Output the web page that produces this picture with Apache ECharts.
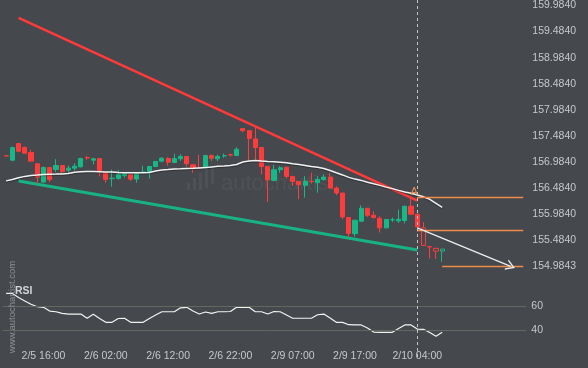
<!DOCTYPE html>
<html><head><meta charset="utf-8">
<script src="https://cdn.jsdelivr.net/npm/echarts@6/dist/echarts.min.js"></script>
<style>html,body{margin:0;padding:0;background:#45484d;overflow:hidden}#c{width:588px;height:368px}</style>
</head><body><div id="c"></div>
<script>
const categories = [
'2/5 10:00','2/5 11:00','2/5 12:00','2/5 13:00','2/5 14:00','2/5 15:00','2/5 16:00','2/5 17:00','2/5 18:00','2/5 19:00','2/5 20:00','2/5 21:00','2/5 22:00','2/5 23:00',
'2/6 00:00','2/6 01:00','2/6 02:00','2/6 03:00','2/6 04:00','2/6 05:00','2/6 06:00','2/6 07:00','2/6 08:00','2/6 09:00','2/6 10:00','2/6 11:00','2/6 12:00','2/6 13:00','2/6 14:00','2/6 15:00','2/6 16:00','2/6 17:00','2/6 18:00','2/6 19:00','2/6 20:00','2/6 21:00','2/6 22:00','2/6 23:00',
'2/8 23:00',
'2/9 00:00','2/9 01:00','2/9 02:00','2/9 03:00','2/9 04:00','2/9 05:00','2/9 06:00','2/9 07:00','2/9 08:00','2/9 09:00','2/9 10:00','2/9 11:00','2/9 12:00','2/9 13:00','2/9 14:00','2/9 15:00','2/9 16:00','2/9 17:00','2/9 18:00','2/9 19:00','2/9 20:00','2/9 21:00','2/9 22:00',
'2/10 00:00','2/10 01:00','2/10 02:00','2/10 03:00','2/10 04:00','2/10 05:00','2/10 06:00','2/10 07:00','2/10 08:00','2/10 09:00','2/10 10:00','2/10 11:00','2/10 12:00','2/10 13:00','2/10 14:00','2/10 15:00','2/10 16:00','2/10 17:00','2/10 18:00','2/10 19:00','2/10 20:00','2/10 21:00'
];
const tickLabels = ['2/5 16:00','2/6 02:00','2/6 12:00','2/6 22:00','2/9 07:00','2/9 17:00','2/10 04:00'];

const opens = [157.105,157.019,157.337,157.261,157.166,156.950,156.599,156.879,156.841,156.917,156.828,156.866,156.892,157.066,157.019,157.051,156.784,156.666,156.669,156.727,156.740,156.656,156.784,156.803,156.898,157.000,157.051,156.975,157.045,157.089,156.931,156.876,156.874,157.108,157.045,157.100,157.124,157.108,157.624,157.585,157.427,157.261,156.898,156.631,156.836,156.885,156.708,156.612,156.536,156.614,156.587,156.650,156.694,156.484,156.389,155.919,155.610,155.849,156.097,155.963,155.906,155.721,155.875,155.855,155.862,156.135,155.982,155.721,155.360,155.328,155.276];
const closes = [157.100,157.261,157.190,157.152,157.000,156.694,156.879,156.645,156.917,156.803,156.866,156.904,157.051,157.060,157.045,156.822,156.650,156.673,156.740,156.759,156.656,156.759,156.793,156.898,156.994,157.057,156.981,157.051,157.089,156.950,156.874,156.872,157.108,157.057,157.089,157.104,157.120,157.229,157.585,157.433,157.261,156.898,156.641,156.836,156.874,156.708,156.612,156.549,156.618,156.610,156.650,156.694,156.484,156.389,155.931,155.614,155.868,156.097,155.963,155.919,155.721,155.881,155.879,155.887,156.135,155.982,155.740,155.385,155.356,155.276,155.314];
const lows = [157.090,157.000,157.185,157.146,156.988,156.568,156.580,156.599,156.790,156.759,156.778,156.822,156.879,157.026,156.937,156.708,156.587,156.511,156.645,156.683,156.618,156.587,156.778,156.664,156.885,156.981,156.912,156.969,157.007,156.898,156.778,156.866,156.866,157.000,157.000,157.064,157.089,157.095,157.553,157.000,157.032,156.746,156.217,156.618,156.778,156.664,156.523,156.269,156.301,156.568,156.397,156.622,156.473,156.345,155.887,155.538,155.553,155.836,155.931,155.900,155.633,155.710,155.836,155.816,155.805,155.980,155.645,155.372,155.137,155.124,155.072];
const highs = [157.110,157.280,157.340,157.280,157.217,156.956,156.898,156.882,157.038,156.920,156.917,156.956,157.064,157.103,157.064,157.055,156.787,156.836,156.828,156.784,156.743,156.784,156.912,156.900,157.003,157.076,157.076,157.141,157.133,157.092,156.934,157.122,157.122,157.127,157.127,157.146,157.141,157.267,157.633,157.590,157.662,157.264,156.900,156.931,156.904,156.888,156.710,156.615,156.713,156.778,156.713,156.746,156.778,156.517,156.391,155.922,155.870,156.154,156.100,156.040,155.944,155.893,155.919,156.072,156.148,156.307,155.996,155.830,155.362,155.330,155.316];

const maValues = [156.622,156.650,156.683,156.708,156.727,156.736,156.746,156.750,156.752,156.755,156.765,156.788,156.799,156.803,156.803,156.799,156.794,156.790,156.784,156.780,156.778,156.778,156.778,156.784,156.813,156.832,156.841,156.851,156.855,156.860,156.864,156.870,156.876,156.889,156.902,156.908,156.918,156.937,156.984,157.003,157.013,157.003,156.994,156.988,156.979,156.969,156.950,156.937,156.918,156.898,156.883,156.860,156.822,156.778,156.736,156.689,156.656,156.631,156.597,156.565,156.536,156.502,156.473,156.440,156.408,156.383,156.351,156.316,156.269,156.192,156.116];

const rsiValues = [70.6,70.4,67.1,64.2,61.5,59.4,58.9,55.8,55.2,53.8,53.3,53.3,53.3,49.8,53.1,49.6,46.4,46.4,49.6,49.8,46.4,46.4,46.4,49.6,52.5,55.2,55.2,55.2,58.5,58.9,55.8,53.3,55.0,53.8,55.2,55.2,55.4,58.9,58.9,58.9,55.2,55.2,53.3,55.4,55.2,52.5,49.8,49.8,49.8,49.8,52.7,53.3,50.0,46.4,46.4,44.4,44.2,44.2,41.7,38.3,38.1,38.1,38.1,41.2,44.2,44.2,40.8,40.6,37.9,34.8,38.1];
const rsiLevels = [60, 40];

const resistanceLine = [[2,159.748],[66,156.244]];
const supportLine = [[2,156.618],[66,155.295]];
const levelLines = [[[66,156.301],[83,156.301]],[[66,155.671],[83,155.671]],[[70,154.9843],[83,154.9843]]];
const forecastArrow = [[66,155.721],[81,154.9843]];
const patternPoint = [66,156.41];
const hollowIdx = [67,69,70];
const eventIdx = 66;

const priceMin = 154.9843, priceMax = 159.9843, priceStep = 0.5;

const BG = '#45484d', UP = '#16b886', DOWN = '#ff3b3b', ORANGE = '#f08a4b', LABEL = '#c6c8cb';

const candleData = opens.map((o, k) => {
  const item = { value: [o, closes[k], lows[k], highs[k]] };
  if (hollowIdx.includes(k)) item.itemStyle = { color: BG, color0: BG };
  return item;
});
const cat = p => [categories[p[0]], p[1]];

const chart = echarts.init(document.getElementById('c'), null, { renderer: 'canvas' });
const option = {
  animation: false,
  backgroundColor: BG,
  textStyle: { fontFamily: 'Liberation Sans, Arial, sans-serif' },
  grid: [
    { left: 3, right: 61.7, top: 4.3, height: 262 },
    { left: 3, right: 61.7, top: 282, height: 66 }
  ],
  xAxis: [
    { type: 'category', gridIndex: 0, data: categories, boundaryGap: true, show: false },
    { type: 'category', gridIndex: 1, data: categories, boundaryGap: true,
      axisLine: { show: false }, axisTick: { show: false }, splitLine: { show: false },
      axisLabel: { interval: (i, v) => tickLabels.includes(v), color: LABEL, fontSize: 10.5, margin: 3 } }
  ],
  yAxis: [
    { type: 'value', gridIndex: 0, position: 'right', min: priceMin, max: priceMax, interval: priceStep,
      axisLine: { show: false }, axisTick: { show: false }, splitLine: { show: false },
      axisLabel: { color: LABEL, fontSize: 10.5, margin: 6, formatter: v => v.toFixed(4) } },
    { type: 'value', gridIndex: 1, position: 'right', min: 25, max: 80,
      axisLine: { show: false }, axisTick: { show: false }, splitLine: { show: false }, axisLabel: { show: false } }
  ],
  series: [
    { type: 'line', name: 'support', xAxisIndex: 0, yAxisIndex: 0, data: supportLine.map(cat), symbol: 'none',
      lineStyle: { color: '#17b385', width: 3 }, z: 2 },
    { type: 'line', name: 'resistance', xAxisIndex: 0, yAxisIndex: 0, data: resistanceLine.map(cat), symbol: 'none',
      lineStyle: { color: '#ff3a3a', width: 2.5 }, z: 2 },
    { type: 'candlestick', name: 'price', xAxisIndex: 0, yAxisIndex: 0, data: candleData, barWidth: '74%',
      itemStyle: { color: UP, color0: DOWN, borderColor: UP, borderColor0: DOWN, borderWidth: 1 }, z: 3,
      markPoint: { symbol: 'circle', symbolSize: 1, itemStyle: { color: 'rgba(0,0,0,0)' },
        label: { show: true, formatter: 'A', color: ORANGE, fontSize: 11, offset: [-3, 0] },
        data: [{ coord: cat(patternPoint) }] } },
    { type: 'line', name: 'ma', xAxisIndex: 0, yAxisIndex: 0, data: maValues, symbol: 'none',
      lineStyle: { color: '#f2f2f2', width: 1.5, shadowColor: 'rgba(0,0,0,0.35)', shadowOffsetY: 1, shadowBlur: 1 }, z: 4,
      markLine: { silent: true, symbol: 'none', animation: false,
        lineStyle: { color: ORANGE, width: 1.3, type: 'solid' }, label: { show: false },
        data: levelLines.map(l => [{ coord: cat(l[0]) }, { coord: cat(l[1]) }])
          .concat([[{ coord: cat(forecastArrow[0]), symbol: 'none', lineStyle: { color: '#eeeeee', width: 1.3 } },
                    { coord: cat(forecastArrow[1]), symbol: 'path://M0,10 L5,0 L10,10 L8.6,10 L5,2.8 L1.4,10 Z', symbolSize: [11, 9] }]]) } },
    { type: 'line', name: 'RSI', xAxisIndex: 1, yAxisIndex: 1, data: rsiValues, symbol: 'none',
      lineStyle: { color: '#f2f2f2', width: 1.2 }, z: 4,
      markLine: { silent: true, symbol: 'none', animation: false,
        lineStyle: { color: '#626760', width: 1, type: 'solid' },
        label: { show: true, position: 'end', formatter: p => String(p.value), color: LABEL, fontSize: 10.5, distance: 5 },
        data: rsiLevels.map(v => ({ yAxis: v })) } }
  ]
};
chart.setOption(option);

const ex = Math.round(chart.convertToPixel({ xAxisIndex: 0 }, categories[eventIdx])) + 0.5;
const wm = 'rgba(255,255,255,0.05)';
chart.setOption({
  graphic: [
    { type: 'line', shape: { x1: ex, y1: 0, x2: ex, y2: 358 }, style: { stroke: '#c4c4c4', lineWidth: 1, lineDash: [3, 3] }, z: 10 },
    { type: 'text', x: 12, y: 307, rotation: Math.PI / 2,
      style: { text: 'www.autochartist.com', fill: '#8e9195', font: '9.5px "Liberation Sans", Arial, sans-serif', align: 'center', verticalAlign: 'middle' }, z: 10 },
    { type: 'text', x: 15, y: 291,
      style: { text: 'RSI', fill: '#d2d4d6', font: 'bold 10.5px "Liberation Sans", Arial, sans-serif', align: 'left', verticalAlign: 'middle' }, z: 10 },
    { type: 'text', x: 221, y: 184,
      style: { text: 'autochartist', fill: wm, font: '22px "Liberation Sans", Arial, sans-serif', align: 'left', verticalAlign: 'middle' }, z: 1 },
    { type: 'rect', shape: { x: 187, y: 183, width: 3, height: 7 }, style: { fill: wm }, z: 1 },
    { type: 'rect', shape: { x: 193, y: 178, width: 3, height: 12 }, style: { fill: wm }, z: 1 },
    { type: 'rect', shape: { x: 199, y: 173, width: 3, height: 17 }, style: { fill: wm }, z: 1 },
    { type: 'rect', shape: { x: 205, y: 169, width: 3, height: 19 }, style: { fill: wm }, z: 1 },
    { type: 'rect', shape: { x: 211, y: 166, width: 3, height: 18 }, style: { fill: wm }, z: 1 }
  ]
});
</script></body></html>
